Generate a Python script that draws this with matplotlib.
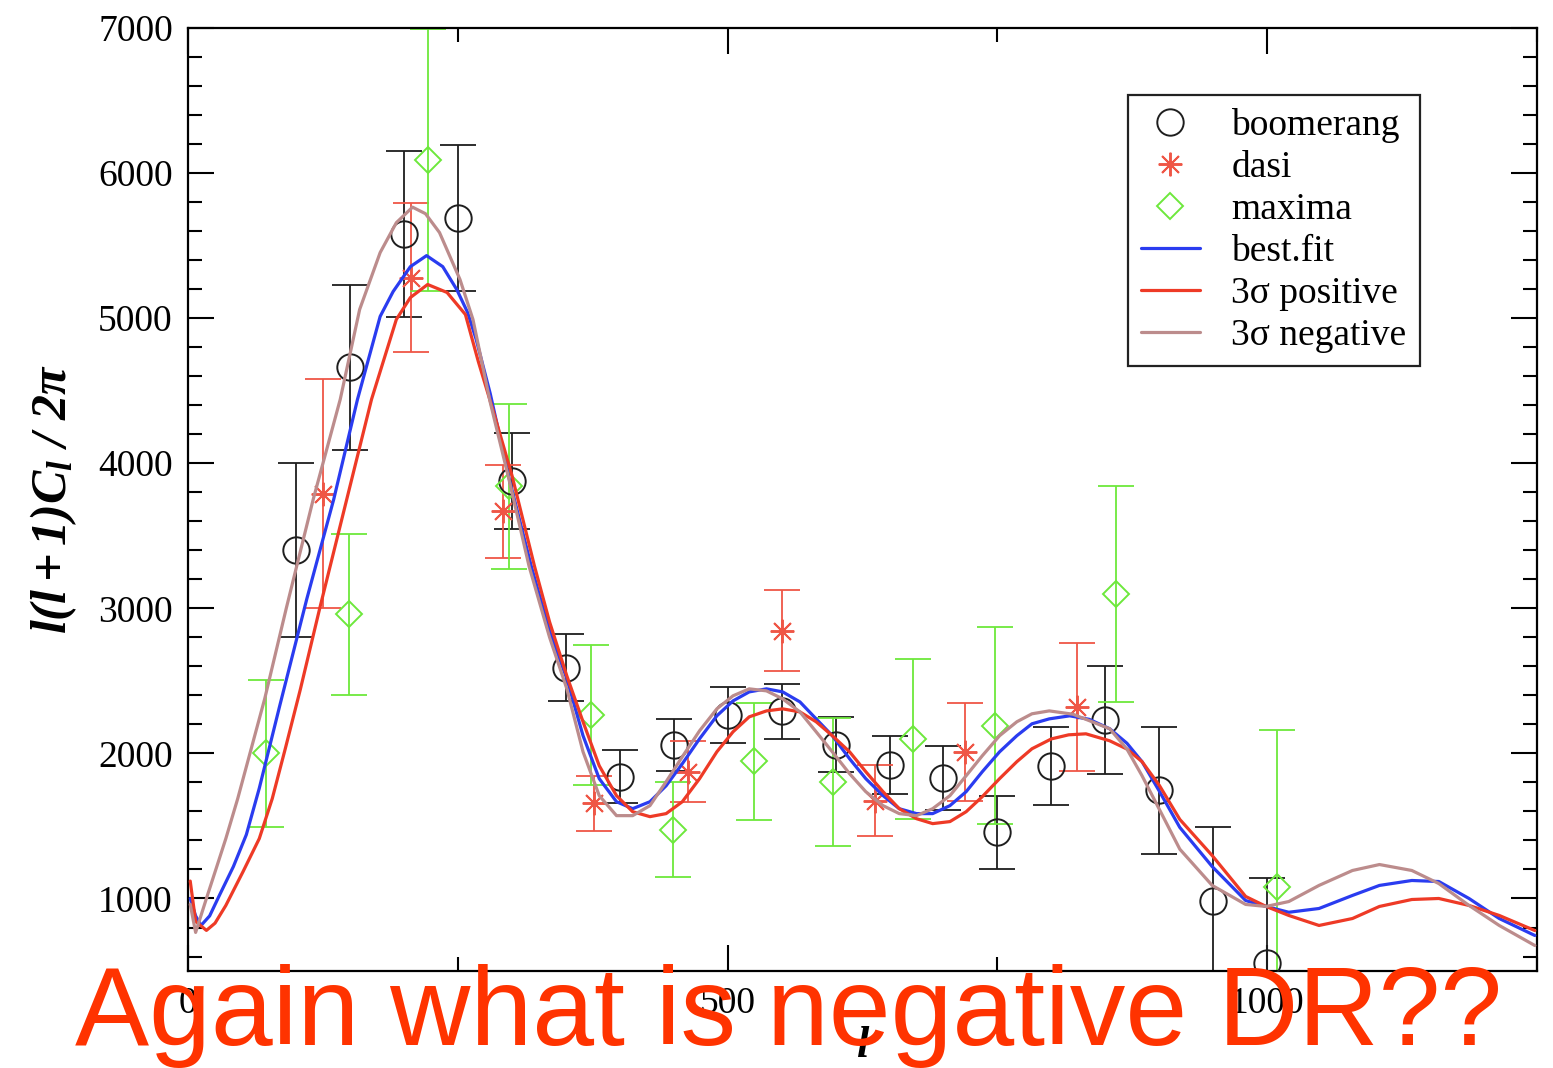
import matplotlib
matplotlib.use("Agg")
import matplotlib.pyplot as plt
from matplotlib.ticker import MultipleLocator

plt.rcParams['font.family'] = ['Liberation Serif', 'DejaVu Serif']
plt.rcParams['mathtext.fontset'] = 'custom'
plt.rcParams['mathtext.it'] = 'Liberation Serif:italic:bold'
plt.rcParams['mathtext.rm'] = 'Liberation Serif:italic:bold'
plt.rcParams['mathtext.bf'] = 'Liberation Serif:bold'

# data points
boom_l = [100, 150, 200, 250, 300, 350, 400, 450, 500, 550, 600, 650, 700, 750, 800, 850, 900, 950, 1000]
boom_v = [3400, 4660, 5580, 5690, 3880, 2590, 1840, 2060, 2265, 2290, 2060, 1920, 1830, 1455, 1915, 2230, 1745, 985, 555]
boom_e = [600, 570, 570, 500, 330, 230, 180, 180, 190, 190, 190, 200, 220, 250, 270, 370, 440, 510, 585]

dasi_l = [125, 207, 292, 376, 463, 550, 637, 720, 824]
dasi_v = [3790, 5280, 3670, 1655, 1875, 2845, 1675, 2010, 2320]
dasi_e = [790, 515, 320, 190, 210, 280, 245, 335, 440]

max_l = [72, 149, 222, 297, 373, 449, 524, 598, 672, 748, 860, 1009]
max_v = [2000, 2960, 6090, 3840, 2265, 1475, 1945, 1805, 2100, 2190, 3100, 1080]
max_e = [505, 555, 900, 570, 480, 325, 405, 440, 550, 680, 745, 1080]

# model curves, read point by point
fit_l = [2, 7, 12, 20, 29, 42, 54, 66, 85, 110, 135, 157, 178, 190, 206, 221, 236, 249, 259, 267,
         280, 298, 318, 335, 351, 366, 381, 397, 412, 428, 443, 458, 474, 490, 505, 520, 536, 551,
         567, 582, 597, 613, 628, 644, 659, 675, 690, 706, 721, 736, 752, 768, 782, 798, 817, 835,
         854, 870, 884, 900, 919, 949, 980, 999, 1020, 1048, 1079, 1104, 1134, 1159, 1187, 1215, 1248]
fit_v = [1000, 880, 814, 880, 1021, 1220, 1440, 1760, 2330, 3064, 3752, 4440, 5012, 5183, 5355, 5431,
         5355, 5197, 5040, 4853, 4480, 3880, 3291, 2844, 2514, 2122, 1826, 1667, 1619, 1667, 1777,
         1929, 2101, 2259, 2362, 2424, 2445, 2424, 2355, 2238, 2122, 1963, 1826, 1709, 1619, 1585,
         1585, 1640, 1736, 1874, 2011, 2122, 2204, 2238, 2259, 2235, 2170, 2070, 1943, 1740, 1490,
         1220, 986, 945, 905, 931, 1021, 1090, 1124, 1117, 1000, 862, 745]

pos_l = [2, 7, 17, 25, 35, 51, 66, 78, 90, 104, 122, 148, 170, 193, 206, 222, 240, 257, 269, 284,
         300, 321, 335, 351, 366, 381, 397, 412, 428, 443, 458, 474, 490, 505, 520, 536, 551, 567,
         582, 597, 613, 628, 644, 659, 675, 690, 706, 721, 736, 752, 768, 782, 800, 816, 832, 854,
         870, 884, 900, 919, 949, 980, 999, 1020, 1048, 1079, 1104, 1134, 1159, 1187, 1215, 1248]
pos_v = [1120, 842, 780, 830, 952, 1186, 1413, 1688, 2030, 2440, 3000, 3780, 4440, 4991, 5142, 5232,
         5177, 5025, 4700, 4330, 3920, 3291, 2906, 2534, 2218, 1915, 1709, 1598, 1564, 1585, 1667,
         1826, 2011, 2149, 2252, 2293, 2307, 2286, 2218, 2122, 2011, 1874, 1736, 1619, 1550, 1516,
         1530, 1598, 1702, 1826, 1943, 2032, 2100, 2128, 2135, 2087, 2030, 1943, 1780, 1545, 1296,
         1014, 945, 883, 814, 862, 945, 993, 1000, 952, 883, 779]

neg_l = [2, 7, 17, 26, 35, 46, 71, 91, 116, 141, 159, 178, 193, 208, 220, 233, 252, 264, 280, 298,
         316, 335, 351, 366, 381, 397, 412, 428, 443, 458, 474, 490, 505, 520, 536, 551, 567, 582,
         597, 613, 628, 644, 659, 675, 690, 706, 721, 736, 752, 768, 782, 798, 820, 854, 870, 884,
         900, 919, 949, 980, 999, 1020, 1048, 1079, 1104, 1134, 1159, 1187, 1215, 1248]
neg_v = [960, 766, 1000, 1206, 1413, 1688, 2376, 3000, 3752, 4440, 5060, 5452, 5658, 5765, 5720, 5590,
         5266, 4991, 4420, 3869, 3290, 2800, 2445, 2011, 1709, 1571, 1571, 1640, 1805, 1977, 2156,
         2307, 2397, 2445, 2431, 2376, 2286, 2149, 2011, 1860, 1736, 1640, 1585, 1571, 1619, 1709,
         1846, 1984, 2122, 2218, 2273, 2293, 2270, 2170, 2030, 1846, 1615, 1340, 1090, 959, 945, 979,
         1090, 1193, 1234, 1193, 1103, 952, 814, 676]

c_boom = '#1e1e1e'
c_dasi = '#ef5646'
c_max = '#6de83c'
c_fit = '#2a3cf0'
c_pos = '#ee3a26'
c_neg = '#bc8c8c'

fig = plt.figure(figsize=(15.53, 10.68), dpi=100)
ax = fig.add_axes([0.1211, 0.0908, 0.8686, 0.8830])

eb = dict(lw=1.3, capsize=13, capthick=1.3, fmt='none', zorder=2)
ax.errorbar(boom_l, boom_v, yerr=boom_e, ecolor=c_boom, **eb)
ax.errorbar(dasi_l, dasi_v, yerr=dasi_e, ecolor=c_dasi, **eb)
ax.errorbar(max_l, max_v, yerr=max_e, ecolor=c_max, **eb)

ax.plot(boom_l, boom_v, ls='none', marker='o', ms=19, mfc='none', mec=c_boom, mew=1.4,
        label='boomerang', zorder=3)
ax.plot(dasi_l, dasi_v, ls='none', marker=(8, 2, 0), ms=17, mec=c_dasi, mew=1.4,
        label='dasi', zorder=3)
ax.plot(max_l, max_v, ls='none', marker='D', ms=13.5, mfc='none', mec=c_max, mew=1.4,
        label='maxima', zorder=3)

line_kw = dict(lw=2.3, zorder=4, solid_joinstyle='round', solid_capstyle='round')
ax.plot(fit_l, fit_v, color=c_fit, label='best.fit', **line_kw)
ax.plot(pos_l, pos_v, color=c_pos, label='3σ positive', **line_kw)
ax.plot(neg_l, neg_v, color=c_neg, label='3σ negative', **line_kw)

ax.set_xlim(0, 1250)
ax.set_ylim(500, 7000)
ax.xaxis.set_major_locator(MultipleLocator(500))
ax.xaxis.set_minor_locator(MultipleLocator(250))
ax.yaxis.set_major_locator(MultipleLocator(1000))
ax.yaxis.set_minor_locator(MultipleLocator(200))
ax.tick_params(which='both', direction='in', top=True, right=True, width=1.5, labelsize=27, pad=11)
ax.tick_params(which='major', length=19)
ax.tick_params(which='minor', length=10)
for s in ax.spines.values():
    s.set_linewidth(1.6)

ax.set_ylabel(r'$l(l+1)C_l\ /\ 2\pi$', fontsize=36, labelpad=14)
ax.set_xlabel('l', fontsize=32, style='italic', weight='bold', labelpad=4)

leg = ax.legend(loc='upper right', bbox_to_anchor=(0.913, 0.929), fontsize=27, numpoints=1,
                handlelength=1.55, handletextpad=0.85, labelspacing=0.2, borderpad=0.35,
                borderaxespad=0, fancybox=False, framealpha=1, edgecolor='#222222')
leg.get_frame().set_linewidth(1.6)

fig.text(75 / 1553, 1 - 1045 / 1068, 'Again what is negative DR??', color='#ff3300',
         fontsize=80, family='Liberation Sans', va='baseline', ha='left', zorder=10)

fig.savefig('out.png', dpi=100)
